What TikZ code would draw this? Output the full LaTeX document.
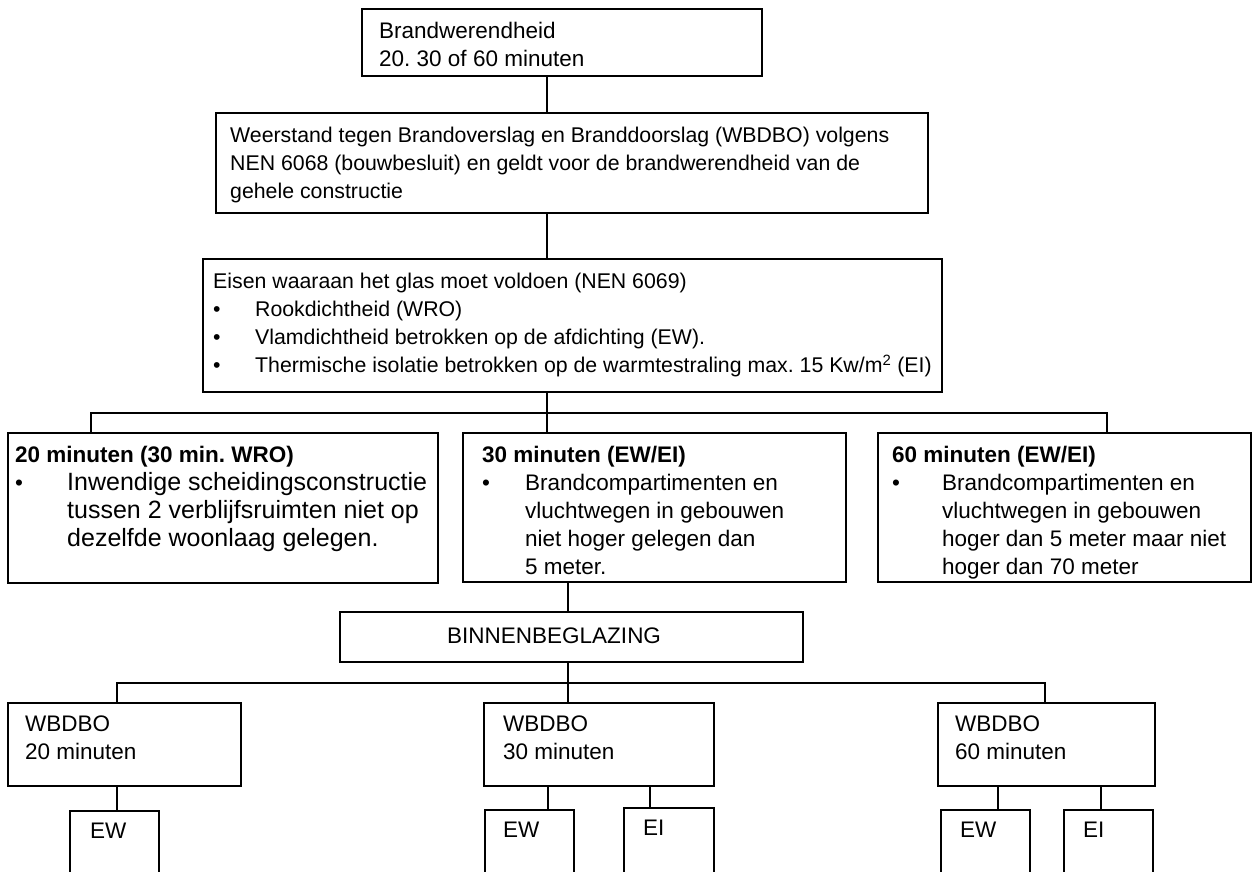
\documentclass[tikz,border=0pt]{standalone}
\usepackage{fontspec}
\setmainfont{Liberation Sans}
\frenchspacing
\usetikzlibrary{positioning}

% bullet with hanging indent
\newcommand{\itm}[1]{\makebox[#1][l]{\textbullet}}
\newcommand{\bigbody}{\fontsize{25}{28}\selectfont}

\begin{document}
\begin{tikzpicture}[
    x=1pt, y=-1pt,
    frame/.style={
        draw, line width=1.3pt, rectangle, anchor=north west,
        outer sep=0pt, inner sep=0pt
    },
    txt/.style={
        anchor=north west, inner sep=0pt, align=left,
        font=\fontsize{22.5}{28}\selectfont
    },
    smalltxt/.style={txt, font=\fontsize{21.3}{28}\selectfont},
    link/.style={line width=1.3pt},
]
\useasboundingbox (0,0) rectangle (1255,871);
\clip (0,0) rectangle (1255,871);

% ── Top ──
\node[frame, minimum width=400pt, minimum height=67pt] (brand) at (362,9) {};
\node[txt] (brandt) at ([shift={(17pt,-13pt)}]brand.north west) {
    Brandwerendheid\\
    20. 30 of 60 minuten
};
\node[frame, minimum width=712pt, minimum height=100pt] (wbdbo) at (216,113) {};
\node[smalltxt] (wbdbot) at ([shift={(14pt,-14pt)}]wbdbo.north west) {
    Weerstand tegen Brandoverslag en Branddoorslag (WBDBO) volgens\\
    NEN 6068 (bouwbesluit) en geldt voor de brandwerendheid van de\\
    gehele constructie
};
\node[frame, minimum width=739pt, minimum height=133pt] (eisen) at (203,259) {};
\node[smalltxt] (eisent) at ([shift={(10pt,-14pt)}]eisen.north west) {
    Eisen waaraan het glas moet voldoen (NEN 6069)\\
    \itm{42pt}Rookdichtheid (WRO)\\
    \itm{42pt}Vlamdichtheid betrokken op de afdichting (EW).\\
    \itm{42pt}Thermische isolatie betrokken op de warmtestraling max. 15 Kw/m\textsuperscript{2} (EI)
};

% ── Three classes ──
\node[frame, minimum width=430pt, minimum height=150pt] (min20) at (8,433) {};
\node[txt] (min20t) at ([shift={(7pt,-13pt)}]min20.north west) {
    \textbf{20 minuten (30 min. WRO)}\\
    \itm{52pt}\bigbody Inwendige scheidingsconstructie\\
    \hspace*{52pt}\bigbody tussen 2 verblijfsruimten niet op\\
    \hspace*{52pt}\bigbody dezelfde woonlaag gelegen.
};
\node[frame, minimum width=383pt, minimum height=149pt] (min30) at (463,433) {};
\node[txt] (min30t) at ([shift={(19pt,-13pt)}]min30.north west) {
    \textbf{30 minuten (EW/EI)}\\
    \itm{43pt}Brandcompartimenten en\\
    \hspace*{43pt}vluchtwegen in gebouwen\\
    \hspace*{43pt}niet hoger gelegen dan\\
    \hspace*{43pt}5 meter.
};
\node[frame, minimum width=373pt, minimum height=149pt] (min60) at (878,433) {};
\node[txt] (min60t) at ([shift={(14pt,-13pt)}]min60.north west) {
    \textbf{60 minuten (EW/EI)}\\
    \itm{50pt}Brandcompartimenten en\\
    \hspace*{50pt}vluchtwegen in gebouwen\\
    \hspace*{50pt}hoger dan 5 meter maar niet\\
    \hspace*{50pt}hoger dan 70 meter
};

% ── Binnenbeglazing ──
\node[frame, minimum width=463pt, minimum height=50pt] (binnen) at (340,612) {};
\node[txt] (binnent) at ([shift={(107pt,-16pt)}]binnen.north west) {BINNENBEGLAZING};

\node[frame, minimum width=233pt, minimum height=83pt] (wb20) at (8,703) {};
\node[txt] (wb20t) at ([shift={(17pt,-13pt)}]wb20.north west) {WBDBO\\20 minuten};
\node[frame, minimum width=230pt, minimum height=83pt] (wb30) at (484,703) {};
\node[txt] (wb30t) at ([shift={(19pt,-13pt)}]wb30.north west) {WBDBO\\30 minuten};
\node[frame, minimum width=217pt, minimum height=83pt] (wb60) at (938,703) {};
\node[txt] (wb60t) at ([shift={(17pt,-13pt)}]wb60.north west) {WBDBO\\60 minuten};

\node[frame, minimum width=89pt, minimum height=80pt] (ew20) at (70,811) {};
\node[txt] (ew20t) at ([shift={(20pt,-12pt)}]ew20.north west) {EW};
\node[frame, minimum width=89pt, minimum height=80pt] (ew30) at (485,810) {};
\node[txt] (ew30t) at ([shift={(18pt,-12pt)}]ew30.north west) {EW};
\node[frame, minimum width=90pt, minimum height=82pt] (ei30) at (624,808) {};
\node[txt] (ei30t) at ([shift={(19pt,-12pt)}]ei30.north west) {EI};
\node[frame, minimum width=89pt, minimum height=80pt] (ew60) at (941,810) {};
\node[txt] (ew60t) at ([shift={(19pt,-12pt)}]ew60.north west) {EW};
\node[frame, minimum width=89pt, minimum height=80pt] (ei60) at (1064,810) {};
\node[txt] (ei60t) at ([shift={(19pt,-12pt)}]ei60.north west) {EI};

% ── Connectors ──
\coordinate (sp1) at (547,0);
\coordinate (sp2) at (568,0);
\coordinate (bus1l) at (91,413);
\coordinate (bus1r) at (1107,413);
\coordinate (bus2l) at (117,683);
\coordinate (bus2r) at (1045,683);

\draw[link] (brand.south -| sp1) -- (wbdbo.north -| sp1);
\draw[link] (wbdbo.south -| sp1) -- (eisen.north -| sp1);
\draw[link] (eisen.south -| sp1) -- (min30.north -| sp1);
\draw[link] (min20.north -| bus1l) -- (bus1l) -- (bus1r) -- (min60.north -| bus1r);

\draw[link] (min30.south -| sp2) -- (binnen.north -| sp2);
\draw[link] (binnen.south -| sp2) -- (wb30.north -| sp2);
\draw[link] (wb20.north -| bus2l) -- (bus2l) -- (bus2r) -- (wb60.north -| bus2r);

\draw[link] (wb20.south -| bus2l) -- (ew20.north -| bus2l);
\draw[link] (wb30.south -| 548,0) -- (ew30.north -| 548,0);
\draw[link] (wb30.south -| 650,0) -- (ei30.north -| 650,0);
\draw[link] (wb60.south -| 998,0) -- (ew60.north -| 998,0);
\draw[link] (wb60.south -| 1101,0) -- (ei60.north -| 1101,0);

\end{tikzpicture}
\end{document}
